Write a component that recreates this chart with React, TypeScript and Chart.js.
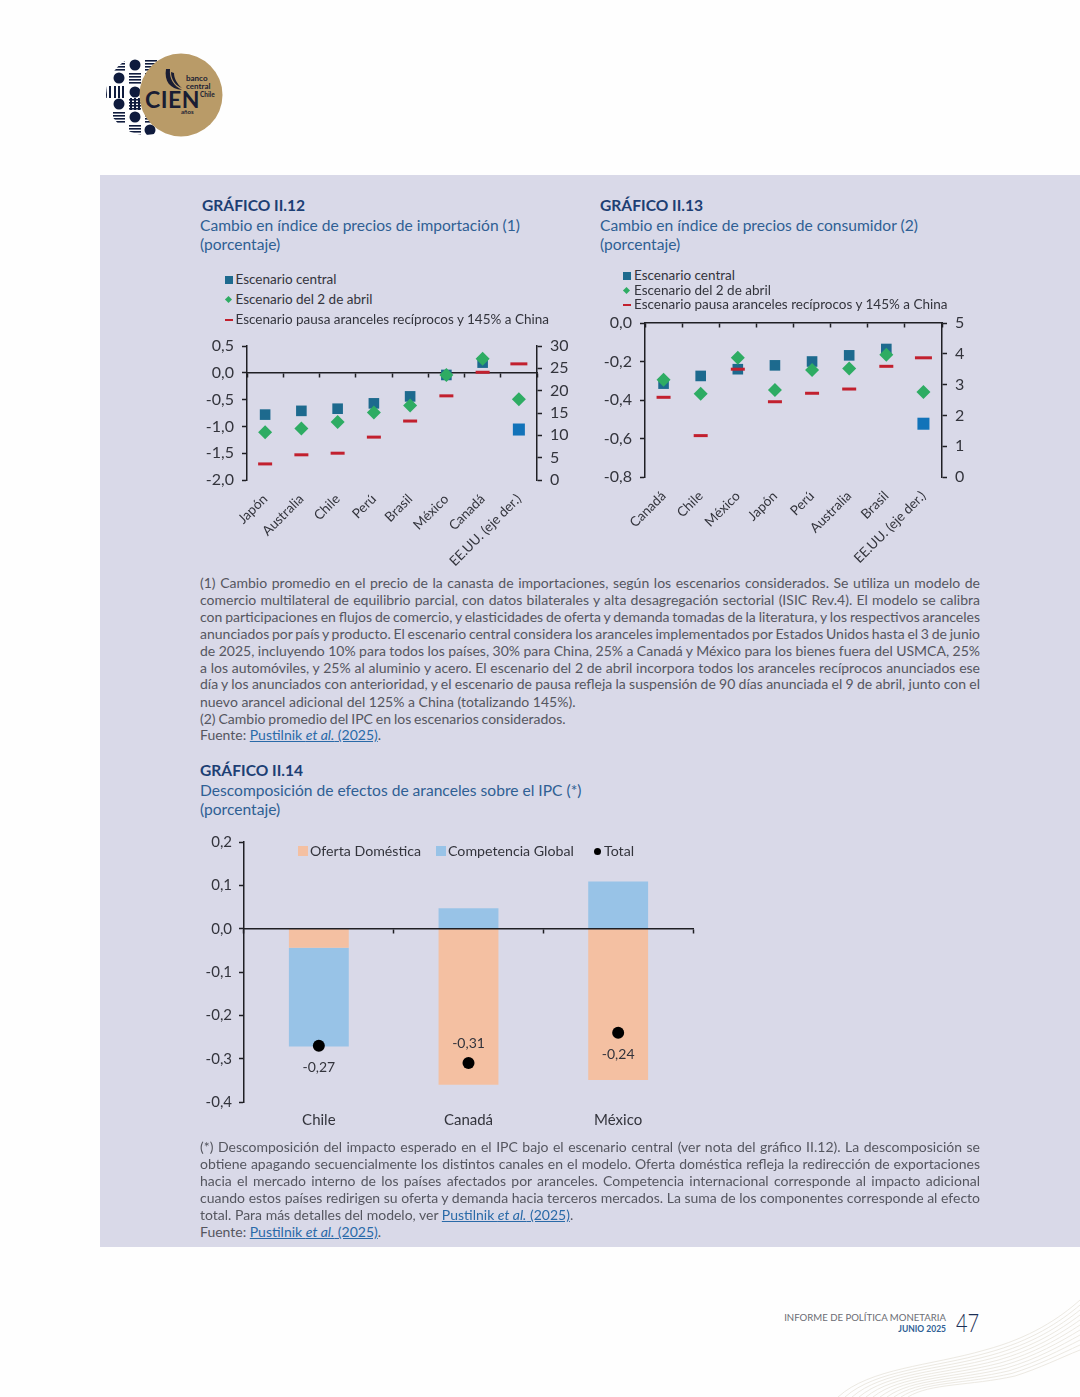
import React, { useEffect, useRef } from "react";
import { Chart, registerables } from "chart.js";

Chart.register(...registerables);

// ---------- data ----------
const seriesNames = ["Escenario central", "Escenario del 2 de abril", "Escenario pausa aranceles recíprocos y 145% a China"];

const g12Categories = ["Japón", "Australia", "Chile", "Perú", "Brasil", "México", "Canadá", "EE.UU. (eje der.)"];
const g12Central = [-0.78, -0.71, -0.67, -0.57, -0.44, -0.04, 0.19];
const g12Abril = [-1.11, -1.04, -0.92, -0.74, -0.61, -0.04, 0.26];
const g12Pausa = [-1.7, -1.53, -1.5, -1.2, -0.9, -0.43, 0.01];
const g12UsaRight = [11.3, 18.1, 26.0];

const g13Categories = ["Canadá", "Chile", "México", "Japón", "Perú", "Australia", "Brasil", "EE.UU. (eje der.)"];
const g13Central = [-0.315, -0.275, -0.24, -0.22, -0.2, -0.168, -0.135];
const g13Abril = [-0.295, -0.367, -0.18, -0.348, -0.244, -0.237, -0.165];
const g13Pausa = [-0.386, -0.585, -0.24, -0.409, -0.365, -0.343, -0.225];
const g13UsaRight = [1.73, 2.76, 3.87];

const g14Categories = ["Chile", "Canadá", "México"];
const g14Oferta = [-0.044, -0.36, -0.349];
const g14Competencia = [-0.228, 0.047, 0.109];
const g14Total = [-0.27, -0.31, -0.24];
const g14Names = ["Oferta Doméstica", "Competencia Global", "Total"];

const nota1 = [
  "(1) Cambio promedio en el precio de la canasta de importaciones, según los escenarios considerados. Se utiliza un modelo de",
  "comercio multilateral de equilibrio parcial, con datos bilaterales y alta desagregación sectorial (ISIC Rev.4). El modelo se calibra",
  "con participaciones en flujos de comercio, y elasticidades de oferta y demanda tomadas de la literatura, y los respectivos aranceles",
  "anunciados por país y producto. El escenario central considera los aranceles implementados por Estados Unidos hasta el 3 de junio",
  "de 2025, incluyendo 10% para todos los países, 30% para China, 25% a Canadá y México para los bienes fuera del USMCA, 25%",
  "a los automóviles, y 25% al aluminio y acero. El escenario del 2 de abril incorpora todos los aranceles recíprocos anunciados ese",
  "día y los anunciados con anterioridad, y el escenario de pausa refleja la suspensión de 90 días anunciada el 9 de abril, junto con el",
];
const nota2 = [
  "(*) Descomposición del impacto esperado en el IPC bajo el escenario central (ver nota del gráfico II.12). La descomposición se",
  "obtiene apagando secuencialmente los distintos canales en el modelo. Oferta doméstica refleja la redirección de exportaciones",
  "hacia el mercado interno de los países afectados por aranceles. Competencia internacional corresponde al impacto adicional",
  "cuando estos países redirigen su oferta y demanda hacia terceros mercados. La suma de los componentes corresponde al efecto",
];

// ---------- style ----------
const FONT = "Lato, 'Noto Sans', sans-serif";
const AXIS = "#1f1f24";
const TEXT = "#33343c";
const NOTE = "#55565f";
const TEAL = "#1d6a8e";
const BLUE = "#1273b9";
const GREEN = "#2eac63";
const RED = "#c2202e";
const NAVY = "#1d3f74";
const SUB = "#2f5f94";
const ORANGE = "#f4c0a2";
const SKY = "#98c3e7";

const comma = (v: number, d = 1) => Number(v).toFixed(d).replace(".", ",");

function padUsa(vals: number[]) {
  return [...vals, null] as (number | null)[];
}
function usaOnly(v: number) {
  return [null, null, null, null, null, null, null, v] as (number | null)[];
}

function scatter(label: string, data: (number | null)[], yAxisID: string, style: string, color: string, radius: number, order: number) {
  return {
    type: "line", label, data, yAxisID, xAxisID: "x", showLine: false, order, clip: false,
    pointStyle: style, pointRadius: radius, pointHoverRadius: radius,
    pointBackgroundColor: color, pointBorderColor: color,
    pointBorderWidth: style === "line" ? 3 : 0,
  };
}

function scenarioConfig(o: any) {
  return {
    type: "line",
    data: {
      labels: o.categories,
      datasets: [
        scatter(seriesNames[0], padUsa(o.central), "y", "rect", TEAL, 7.5, 6),
        scatter(seriesNames[0] + " (EE.UU.)", usaOnly(o.usa[0]), "y1", "rect", BLUE, 8.5, 5),
        scatter(seriesNames[1], padUsa(o.abril), "y", "rectRot", GREEN, 7, 4),
        scatter(seriesNames[1] + " (EE.UU.)", usaOnly(o.usa[1]), "y1", "rectRot", GREEN, 7, 3),
        scatter(seriesNames[2], padUsa(o.pausa), "y", "line", RED, 7, 2),
        scatter(seriesNames[2] + " (EE.UU.)", usaOnly(o.usa[2]), "y1", "line", RED, 8.5, 1),
      ],
    },
    options: {
      responsive: false, animation: false, events: [],
      layout: { padding: { top: o.top, left: 0, right: 0, bottom: 0 } },
      plugins: { legend: { display: false }, tooltip: { enabled: false } },
      scales: {
        x: {
          type: "category", position: "bottom", offset: true,
          grid: { display: false }, border: { display: false },
          ticks: { autoSkip: false, minRotation: 45, maxRotation: 45, padding: 3, color: TEXT, font: { family: FONT, size: 13.5 } },
          afterFit: (s: any) => { s.height = o.bottom; },
        },
        x2: {
          type: "category", labels: o.categories, position: { y: o.crossAt }, offset: true,
          grid: { offset: true, drawOnChartArea: false, drawTicks: true, tickLength: 4, tickColor: AXIS, tickWidth: 1.5 },
          border: { color: AXIS, width: 1.5 },
          ticks: { display: false, autoSkip: false },
        },
        y: {
          position: "left", min: o.yMin, max: o.yMax,
          grid: { drawOnChartArea: false, tickLength: 5, tickColor: AXIS, tickWidth: 1.5 },
          border: { color: AXIS, width: 1.5 },
          ticks: { stepSize: o.yStep, autoSkip: false, padding: 8, color: TEXT, font: { family: FONT, size: 16 }, callback: (v: number) => comma(v) },
          afterFit: (s: any) => { s.width = o.left; },
        },
        y1: {
          position: "right", min: o.rMin, max: o.rMax,
          grid: { drawOnChartArea: false, tickLength: 5, tickColor: AXIS, tickWidth: 1.5 },
          border: { color: AXIS, width: 1.5 },
          ticks: { stepSize: o.rStep, autoSkip: false, padding: 8, color: TEXT, font: { family: FONT, size: 16 } },
          afterFit: (s: any) => { s.width = o.right; },
        },
      },
    },
  };
}

const totalLabelPlacement = ["below", "above", "below"];

const totalLabels = {
  id: "totalLabels",
  afterDatasetsDraw(chart: any) {
    const idx = chart.data.datasets.findIndex((d: any) => d.label === g14Names[2]);
    const meta = chart.getDatasetMeta(idx);
    const ctx = chart.ctx;
    ctx.save();
    ctx.font = `14px ${FONT}`;
    ctx.fillStyle = TEXT;
    ctx.textAlign = "center";
    ctx.textBaseline = "middle";
    meta.data.forEach((pt: any, i: number) => {
      const dy = totalLabelPlacement[i] === "below" ? 22 : -20;
      ctx.fillText(comma(g14Total[i], 2), pt.x, pt.y + dy);
    });
    ctx.restore();
  },
};

const barConfig: any = {
  type: "bar",
  data: {
    labels: g14Categories,
    datasets: [
      { type: "bar", label: g14Names[0], data: g14Oferta, backgroundColor: ORANGE, stack: "b", xAxisID: "x", yAxisID: "y", barPercentage: 0.4, categoryPercentage: 1, order: 2 },
      { type: "bar", label: g14Names[1], data: g14Competencia, backgroundColor: SKY, stack: "b", xAxisID: "x", yAxisID: "y", barPercentage: 0.4, categoryPercentage: 1, order: 2 },
      { type: "line", label: g14Names[2], data: g14Total, showLine: false, xAxisID: "x", yAxisID: "y", stack: "t", pointStyle: "circle", pointRadius: 6, pointBackgroundColor: "#000", pointBorderWidth: 0, order: 1 },
    ],
  },
  plugins: [totalLabels],
  options: {
    responsive: false, animation: false, events: [],
    layout: { padding: { top: 32, left: 0, right: 7, bottom: 0 } },
    plugins: { legend: { display: false }, tooltip: { enabled: false } },
    scales: {
      x: {
        type: "category", position: "bottom", offset: true, stacked: true,
        grid: { display: false }, border: { display: false },
        ticks: { padding: 1, color: TEXT, font: { family: FONT, size: 15 } },
        afterFit: (s: any) => { s.height = 38; },
      },
      x2: {
        type: "category", labels: g14Categories, position: { y: 0 }, offset: true,
        grid: { offset: true, drawOnChartArea: false, tickLength: 4, tickColor: AXIS, tickWidth: 1.5, z: 2 },
        border: { color: AXIS, width: 1.5, z: 2 },
        ticks: { display: false },
      },
      y: {
        position: "left", min: -0.4, max: 0.2, stacked: true,
        grid: { drawOnChartArea: false, tickLength: 5, tickColor: AXIS, tickWidth: 1.5 },
        border: { color: AXIS, width: 1.5 },
        ticks: { stepSize: 0.1, padding: 7, color: TEXT, font: { family: FONT, size: 15 }, callback: (v: number) => comma(v) },
        afterFit: (s: any) => { s.width = 54; },
      },
    },
  },
};

const g12Config: any = scenarioConfig({
  categories: g12Categories, central: g12Central, abril: g12Abril, pausa: g12Pausa, usa: g12UsaRight,
  yMin: -2, yMax: 0.5, yStep: 0.5, rMin: 0, rMax: 30, rStep: 5, crossAt: 0,
  top: 36, bottom: 90, left: 57, right: 43,
});
const g13Config: any = scenarioConfig({
  categories: g13Categories, central: g13Central, abril: g13Abril, pausa: g13Pausa, usa: g13UsaRight,
  yMin: -0.8, yMax: 0, yStep: 0.2, rMin: 0, rMax: 5, rStep: 1, crossAt: 0,
  top: 33, bottom: 93, left: 55, right: 38,
});

function ChartBox({ config, left, top, width, height }: any) {
  const ref = useRef<HTMLCanvasElement>(null);
  useEffect(() => {
    const chart = new Chart(ref.current as any, config);
    return () => chart.destroy();
  }, [config]);
  return <canvas ref={ref} width={width} height={height} style={{ position: "absolute", left, top, width, height, display: "block" }} />;
}

// ---------- page pieces ----------
function T({ x, y, size = 14, color = TEXT, weight = 400, children, right, family = FONT, ws = 0 }: any) {
  const pos: any = right !== undefined ? { right: 1080 - right } : { left: x };
  return (
    <div style={{ position: "absolute", ...pos, top: y, transform: "translateY(-50%)", fontSize: size, color, fontWeight: weight, whiteSpace: "nowrap", lineHeight: 1, fontFamily: family, wordSpacing: ws }}>
      {children}
    </div>
  );
}

function Heading({ x, subX, y, title, sub }: any) {
  return (
    <>
      <T x={x} y={y + 0.5} size={15.6} weight={700} color={NAVY}>{title}</T>
      <T x={subX} y={y + 20.5} size={15.6} color={SUB}>{sub}</T>
      <T x={subX} y={y + 39.5} size={15.6} color={SUB}>(porcentaje)</T>
    </>
  );
}

function Mark({ x, y, kind, color }: any) {
  const base: any = { position: "absolute", background: color };
  if (kind === "square") return <div style={{ ...base, left: x, top: y - 4, width: 8, height: 8 }} />;
  if (kind === "diamond") return <div style={{ ...base, left: x + 1, top: y - 2.5, width: 5, height: 5, transform: "rotate(45deg)" }} />;
  if (kind === "dash") return <div style={{ ...base, left: x, top: y - 1, width: 8, height: 2 }} />;
  if (kind === "dot") return <div style={{ ...base, left: x, top: y - 3.5, width: 7, height: 7, borderRadius: "50%" }} />;
  return <div style={{ ...base, left: x, top: y - 5, width: 10, height: 10 }} />;
}

function Legend12({ x, ys, textX }: any) {
  const kinds = ["square", "diamond", "dash"];
  const colors = [TEAL, GREEN, RED];
  return (
    <>
      {seriesNames.map((n, i) => (
        <React.Fragment key={n}>
          <Mark x={x} y={ys[i]} kind={kinds[i]} color={colors[i]} />
          <T x={textX} y={ys[i]} size={13.5}>{n}</T>
        </React.Fragment>
      ))}
    </>
  );
}

function Note({ lines, y0, step }: any) {
  return (
    <>
      {lines.map((l: string, i: number) => (
        <div key={i} style={{ position: "absolute", left: 200, top: y0 + step * i, width: 780, transform: "translateY(-50%)", fontSize: 14, lineHeight: 1, color: NOTE, fontFamily: FONT, textAlign: "justify", textAlignLast: "justify", whiteSpace: "nowrap", wordSpacing: -1.2 }}>
          {l}
        </div>
      ))}
    </>
  );
}

function Cite() {
  return (
    <span style={{ color: "#2a6aa8", textDecoration: "underline" }}>
      Pustilnik <i>et al.</i> (2025)
    </span>
  );
}

function Logo() {
  const dots: [number, number][] = [[135, 65], [119, 78], [135, 92], [119, 104], [135, 117], [150, 130]];
  const hStripes: [number, number][] = [[151, 65], [119, 65], [135, 78], [151, 78], [119, 117], [135, 130], [151, 117], [135, 104]];
  const vStripes: [number, number][] = [[119, 92], [151, 92], [135, 104], [106, 92]];
  return (
    <svg width="140" height="100" viewBox="100 50 140 100" style={{ position: "absolute", left: 100, top: 50 }}>
      <defs>
        <clipPath id="lc"><circle cx="146" cy="95" r="40" /></clipPath>
      </defs>
      <g clipPath="url(#lc)" fill="#0f1b3d">
        {dots.map(([x, y], i) => <circle key={i} cx={x} cy={y} r="5.5" />)}
        {hStripes.map(([x, y], i) => (
          <g key={i}>
            {[-4, -1, 2, 5].map((d) => <rect key={d} x={x - 6} y={y + d - 1} width="12" height="1.6" />)}
          </g>
        ))}
        {vStripes.map(([x, y], i) => (
          <g key={i}>
            {[-4, 0, 4].map((d) => <rect key={d} x={x + d - 1} y={y - 6} width="2" height="12" />)}
          </g>
        ))}
      </g>
      <circle cx="181" cy="95" r="41.5" fill="#b99b68" />
      <path d="M166 69 C164 81 170 89 182 90 C174 86 169 79 170 69 Z M171 72 C171 80 176 86 182 88 C177 84 174 78 174 73 Z" fill="#1a1d33" />
      <text x="186" y="81" fontSize="8" fontWeight="700" fill="#1a1d33" fontFamily={FONT}>banco</text>
      <text x="186" y="89" fontSize="8" fontWeight="700" fill="#1a1d33" fontFamily={FONT}>central</text>
      <text x="200" y="97" fontSize="6.5" fontWeight="700" fill="#1a1d33" fontFamily={FONT}>Chile</text>
      <text x="145" y="108" fontSize="23" fontWeight="700" fill="#1a1d33" fontFamily={FONT} letterSpacing="0.5">CIEN</text>
      <text x="181" y="114" fontSize="6" fontWeight="700" fill="#1a1d33" fontFamily={FONT}>años</text>
    </svg>
  );
}

function Waves() {
  const n = Array.from({ length: 11 }, (_, i) => i);
  return (
    <svg width="250" height="100" viewBox="830 1297 250 100" style={{ position: "absolute", left: 830, top: 1297 }}>
      {n.map((i) => (
        <path key={i} fill="none" stroke="#ece9e2" strokeWidth="1"
          d={`M${838 + i * 7} 1397 C${870 + i * 6} ${1368 + i * 1.5}, ${930 + i * 4} ${1366 + i * 2}, ${985 + i * 3} ${1350 + i * 2.6} C${1030 + i} ${1338 + i * 3}, 1060 ${1318 + i * 4}, 1080 ${1300 + i * 5}`} />
      ))}
    </svg>
  );
}

export default function App() {
  useEffect(() => {
    document.body.style.margin = "0";
    document.body.style.background = "#fefefe";
  }, []);
  return (
    <div style={{ position: "absolute", left: 0, top: 0, width: 1080, height: 1397, overflow: "hidden", background: "#fefefe", fontFamily: FONT }}>
      <Logo />
      <Waves />
      <div style={{ position: "absolute", left: 100, top: 175, width: 980, height: 1072, background: "#d9d9e8" }} />

      <Heading x={202} subX={200} y={205} title="GRÁFICO II.12" sub="Cambio en índice de precios de importación (1)" />
      <Heading x={600} subX={600} y={205} title="GRÁFICO II.13" sub="Cambio en índice de precios de consumidor (2)" />
      <ChartBox config={g12Config} left={190} top={310} width={390} height={260} />
      <ChartBox config={g13Config} left={590} top={290} width={390} height={280} />
      <Legend12 x={225} textX={235.5} ys={[279.5, 299.5, 320]} />
      <Legend12 x={622.5} textX={634} ys={[276, 290.5, 305]} />

      <Note lines={nota1} y0={583} step={16.9} />
      <T x={200} y={701.5} size={14} color={NOTE}>nuevo arancel adicional del 125% a China (totalizando 145%).</T>
      <T x={200} y={718.5} size={14} color={NOTE} ws={-0.7}>(2) Cambio promedio del IPC en los escenarios considerados.</T>
      <T x={200} y={735} size={14} color={NOTE}>Fuente: <Cite />.</T>

      <Heading x={200} subX={200} y={770} title="GRÁFICO II.14" sub="Descomposición de efectos de aranceles sobre el IPC (*)" />

      <ChartBox config={barConfig} left={190} top={810} width={510} height={330} />
      <Mark x={298} y={851} kind="box" color={ORANGE} />
      <T x={310} y={850.5} size={14.2}>{g14Names[0]}</T>
      <Mark x={436} y={851} kind="box" color={SKY} />
      <T x={448} y={850.5} size={14.2}>{g14Names[1]}</T>
      <Mark x={593.5} y={851} kind="dot" color="#000" />
      <T x={604} y={850.5} size={14.2}>{g14Names[2]}</T>

      <Note lines={nota2} y0={1147} step={17} />
      <T x={200} y={1215} size={14} color={NOTE}>total. Para más detalles del modelo, ver <Cite />.</T>
      <T x={200} y={1232} size={14} color={NOTE}>Fuente: <Cite />.</T>

      <T right={946} y={1317.5} size={9.6} color="#6b6c74">INFORME DE POLÍTICA MONETARIA</T>
      <T right={946} y={1329} size={8.5} weight={700} color={SUB}>JUNIO 2025</T>
      <div style={{ position: "absolute", left: 956, top: 1310, fontSize: 25, lineHeight: 1, color: "#1c2f55", fontWeight: 300, fontFamily: FONT, transform: "scaleX(0.8)", transformOrigin: "left top" }}>47</div>
    </div>
  );
}
